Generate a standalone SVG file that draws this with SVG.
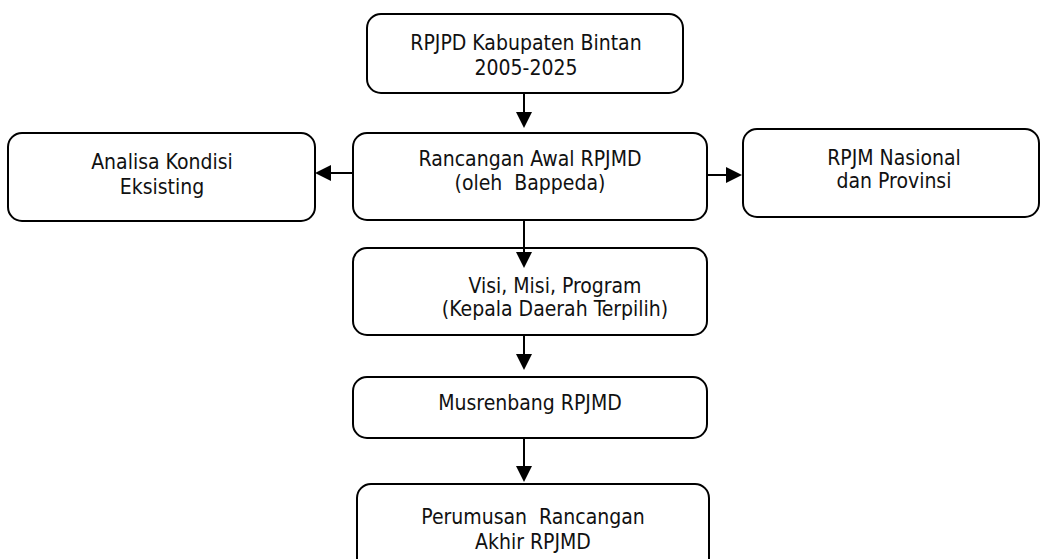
<svg xmlns="http://www.w3.org/2000/svg" width="1042" height="559" viewBox="0 0 1042 559">
<style>
.box{fill:#fff;stroke:#000;stroke-width:2}
.t{font-family:"DejaVu Sans Condensed","DejaVu Sans",sans-serif;font-stretch:condensed;font-size:21px;fill:#111;text-anchor:middle;white-space:pre}
.c{stroke:#000;stroke-width:2;fill:none;marker-end:url(#ah)}
</style>
<defs>
<marker id="ah" markerUnits="userSpaceOnUse" markerWidth="16" markerHeight="16" refX="6" refY="8" orient="auto">
<path d="M0,0 L16,8 L0,16 Z" fill="#000"/>
</marker>
</defs>
<rect width="1042" height="559" fill="#fff"/>
<g id="rpjpd">
<rect class="box" x="367" y="14" width="316" height="79" rx="14"/>
<text class="t" x="526" y="50">RPJPD Kabupaten Bintan</text>
<text class="t" x="526" y="75">2005-2025</text>
</g>
<g id="analisa">
<rect class="box" x="8" y="133" width="307" height="88" rx="14"/>
<text class="t" x="162" y="169">Analisa Kondisi</text>
<text class="t" x="162" y="194">Eksisting</text>
</g>
<g id="rancangan">
<rect class="box" x="353" y="133" width="354" height="87" rx="14"/>
<text class="t" x="530" y="166">Rancangan Awal RPJMD</text>
<text class="t" x="530" y="190">(oleh  Bappeda)</text>
</g>
<g id="rpjm">
<rect class="box" x="743" y="129" width="296" height="88" rx="14"/>
<text class="t" x="894" y="165">RPJM Nasional</text>
<text class="t" x="894" y="188">dan Provinsi</text>
</g>
<g id="visi">
<rect class="box" x="353" y="248" width="354" height="87" rx="14"/>
<text class="t" x="555" y="293">Visi, Misi, Program</text>
<text class="t" x="555" y="316">(Kepala Daerah Terpilih)</text>
</g>
<g id="musrenbang">
<rect class="box" x="353" y="377" width="354" height="61" rx="14"/>
<text class="t" x="530" y="410">Musrenbang RPJMD</text>
</g>
<g id="perumusan">
<rect class="box" x="357" y="484" width="352" height="100" rx="14"/>
<text class="t" x="533" y="524">Perumusan  Rancangan</text>
<text class="t" x="533" y="549">Akhir RPJMD</text>
</g>
<g id="connectors">
<line class="c" x1="524" y1="93" x2="524" y2="118"/>
<line class="c" x1="353" y1="173" x2="325" y2="173"/>
<line class="c" x1="707" y1="175" x2="732" y2="175"/>
<line class="c" x1="524" y1="220" x2="524" y2="258"/>
<line class="c" x1="524" y1="335" x2="524" y2="360"/>
<line class="c" x1="524" y1="438" x2="524" y2="472"/>
</g>
</svg>
